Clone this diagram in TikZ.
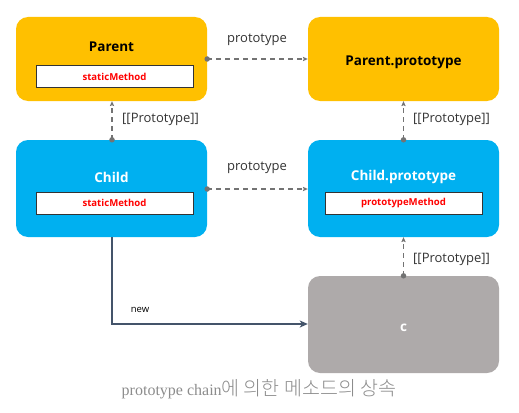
\documentclass[tikz,border=0pt]{standalone}
\usepackage{fontspec}
\setmainfont{Open Sans}
\newfontfamily\capserif{Liberation Serif}
\newfontfamily\kr{Noto Sans CJK KR Light}[Scale=1.22]
\usetikzlibrary{arrows.meta}
\definecolor{orng}{HTML}{FFC000}
\definecolor{blu}{HTML}{00B0F0}
\definecolor{gry}{HTML}{AEAAAA}
\definecolor{lnk}{HTML}{737373}
\definecolor{txt}{HTML}{333333}
\definecolor{newc}{HTML}{44546A}
\definecolor{capc}{HTML}{8C8C8C}
\begin{document}
\begin{tikzpicture}[x=1pt,y=-1pt,
  box/.style={rounded corners=12pt,minimum width=191pt,inner sep=0pt},
  ttl/.style={font=\bfseries\fontsize{13.5}{15}\selectfont},
  meth/.style={draw=black!80,line width=0.6pt,fill=white,minimum width=157pt,minimum height=22pt,inner sep=0pt,text=red,font=\bfseries\fontsize{9.6}{11}\selectfont},
  lnkline/.style={lnk,line width=1.3pt,dash pattern=on 5pt off 4pt,-{Stealth[length=5pt,width=4.5pt,inset=1pt,line width=0pt]}},
  dot/.style={circle,fill=lnk,inner sep=0pt,minimum size=5.5pt},
  lbl/.style={text=txt,font=\fontsize{13}{15}\selectfont,inner sep=0pt}]
\useasboundingbox (0,0) rectangle (519,412);
% boxes
\node[box,fill=orng,minimum height=84pt] (parent) at (111.5,59) {};
\node[ttl,text=black] (parentT) at (111.5,47) {Parent};
\node[meth] (parentM) at (114.5,76.5) {staticMethod};
\node[box,fill=orng,minimum height=84pt] (pproto) at (403.5,59) {};
\node[ttl,text=black] (pprotoT) at (403.5,62) {Parent.prototype};
\node[box,fill=blu,minimum height=97pt] (child) at (111.5,188.5) {};
\node[ttl,text=white] (childT) at (111.5,177) {Child};
\node[meth] (childM) at (114.5,203) {staticMethod};
\node[box,fill=blu,minimum height=97pt] (cproto) at (403.5,188.5) {};
\node[ttl,text=white] (cprotoT) at (403.5,177) {Child.prototype};
\node[meth] (cprotoM) at (403.5,203) {prototypeMethod};
\node[box,fill=gry,minimum height=97pt] (c) at (403.5,324.5) {};
\node[ttl,text=white] (cT) at (403.5,328) {c};
% connector dots
\coordinate (d1) at (parent.east |- 0,59);
\coordinate (d2) at (child.east |- 0,189);
\coordinate (d3) at (child.north -| 112,0);
\coordinate (d4) at (c.north);
\coordinate (d5) at (cproto.north);
% connectors
\draw[lnkline] (d1) -- (pproto.west |- 0,59);
\node[lbl] (l1) at (257,40) {prototype};
\draw[lnkline] (d2) -- (cproto.west |- 0,189);
\node[lbl] (l2) at (257,168) {prototype};
\draw[lnkline] (d3) -- (parent.south -| 112,0);
\node[lbl,anchor=west] (l3) at (122,119) {[[Prototype]]};
\draw[lnkline] (d4) -- (cproto.south);
\draw[lnkline] (d5) -- (pproto.south);
\node[lbl,anchor=west] (l4) at (413,119) {[[Prototype]]};
\node[lbl,anchor=west] (l5) at (413,259) {[[Prototype]]};
\foreach \d in {d1,d2,d3,d4,d5} \node[dot] at (\d) {};
\draw[newc,line width=1.5pt,-{Stealth[length=8pt,width=7pt,inset=2pt]}] (child.south -| 112,0) |- (c.west |- 0,324);
\node[text=black,font=\fontsize{9.5}{11}\selectfont,inner sep=0pt] (l6) at (140,310) {new};
\node[text=capc,font=\fontsize{16}{19}\selectfont,inner sep=0pt] (cap) at (259,389) {\capserif prototype chain\kr 에 의한 메소드의 상속};
\end{tikzpicture}
\end{document}
